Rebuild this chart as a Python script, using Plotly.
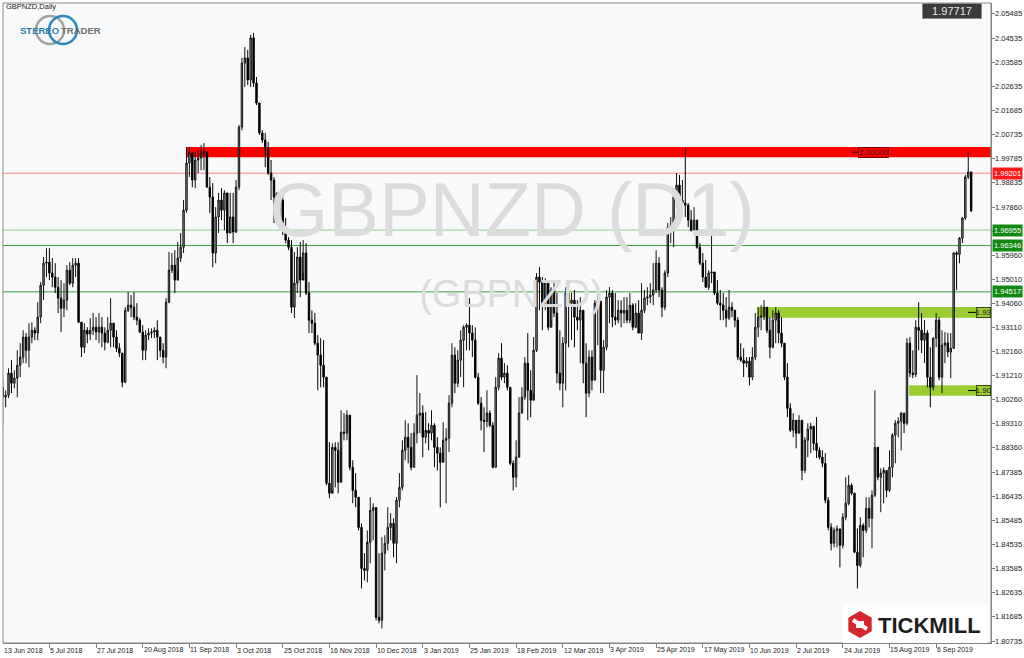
import math
import plotly.graph_objects as go

# ---------------- data ----------------
first_open = 1.9075

closes = [
1.9036,1.9044,1.9131,1.9091,1.9111,1.9162,1.9194,1.9273,1.9221,1.9273,
1.9300,1.9289,1.9352,1.9478,1.9565,1.9569,1.9526,1.9510,1.9470,1.9427,
1.9387,1.9419,1.9537,1.9486,1.9557,1.9565,1.9332,1.9233,1.9300,1.9285,
1.9300,1.9312,1.9293,1.9312,1.9289,1.9253,1.9300,1.9328,1.9273,1.9229,
1.9210,1.9095,1.9379,1.9399,1.9391,1.9352,1.9340,1.9293,1.9221,1.9281,
1.9289,1.9293,1.9300,1.9273,1.9221,1.9194,1.9411,1.9537,1.9557,1.9498,
1.9585,1.9628,1.9774,1.9960,2.0000,1.9893,1.9972,1.9980,2.0000,2.0005,
1.9865,1.9826,1.9605,1.9747,1.9814,1.9774,1.9842,1.9684,1.9747,1.9688,
1.9865,2.0102,2.0355,2.0375,2.0288,2.0454,2.0276,2.0197,2.0079,2.0051,
2.0019,1.9921,1.9893,1.9826,1.9840,1.9814,1.9695,1.9656,1.9628,1.9391,
1.9486,1.9589,1.9498,1.9605,1.9447,1.9340,1.9328,1.9249,1.9202,1.9162,
1.9115,1.8696,1.8657,1.8838,1.8826,1.8700,1.8898,1.8894,1.8965,1.8759,
1.8668,1.8641,1.8522,1.8360,1.8352,1.8463,1.8589,1.8600,1.8167,1.8155,
1.8420,1.8459,1.8522,1.8538,1.8459,1.8629,1.8680,1.8826,1.8878,1.8838,
1.8759,1.8894,1.8965,1.8973,1.8878,1.8905,1.8894,1.8925,1.8838,1.8815,
1.8779,1.8866,1.8874,1.9012,1.9202,1.9091,1.9182,1.9261,1.9312,1.9320,
1.9289,1.9261,1.9115,1.9012,1.8945,1.8940,1.8973,1.8925,1.8759,1.9075,
1.9190,1.9115,1.9131,1.9075,1.8775,1.8720,1.8799,1.8973,1.9036,1.9170,
1.9063,1.9024,1.9221,1.9510,1.9490,1.9407,1.9486,1.9312,1.9459,1.9368,
1.9131,1.9091,1.9249,1.9447,1.9407,1.9419,1.9352,1.9340,1.9379,1.9170,
1.9052,1.9194,1.9103,1.9407,1.9415,1.9142,1.9233,1.9431,1.9447,1.9352,
1.9340,1.9379,1.9368,1.9379,1.9340,1.9399,1.9312,1.9368,1.9289,1.9379,
1.9427,1.9431,1.9439,1.9459,1.9565,1.9459,1.9391,1.9526,1.9707,1.9712,
1.9826,1.9873,1.9814,1.9802,1.9794,1.9735,1.9695,1.9735,1.9628,1.9565,
1.9510,1.9470,1.9526,1.9530,1.9447,1.9407,1.9400,1.9379,1.9348,1.9391,
1.9379,1.9340,1.9194,1.9182,1.9170,1.9178,1.9115,1.9194,1.9312,1.9352,
1.9356,1.9391,1.9300,1.9233,1.9340,1.9368,1.9289,1.9249,1.9115,1.8992,
1.8905,1.8945,1.8894,1.8945,1.8747,1.8866,1.8910,1.8921,1.8854,1.8826,
1.8799,1.8775,1.8629,1.8522,1.8459,1.8510,1.8516,1.8451,1.8562,1.8617,
1.8688,1.8657,1.8424,1.8372,1.8530,1.8510,1.8597,1.8558,1.8649,1.8838,
1.8720,1.8736,1.8747,1.8668,1.8759,1.8886,1.8933,1.8941,1.8973,1.8933,
1.9249,1.9131,1.9125,1.9312,1.9300,1.9261,1.9289,1.9115,1.9075,1.9269,
1.9340,1.9115,1.9241,1.9250,1.9214,1.9229,1.9605,1.9600,1.9664,1.9743,
1.9905,1.9925,1.97717]

opens = [first_open,
1.9036,1.9044,1.9131,1.9091,1.9111,1.9162,1.9194,1.9273,1.9221,1.9273,
1.9300,1.9289,1.9352,1.9478,1.9565,1.9569,1.9526,1.9510,1.9470,1.9427,
1.9387,1.9419,1.9537,1.9486,1.9557,1.9565,1.9332,1.9233,1.9300,1.9285,
1.9300,1.9312,1.9293,1.9312,1.9289,1.9253,1.9300,1.9328,1.9273,1.9229,
1.9210,1.9095,1.9379,1.9399,1.9391,1.9352,1.9340,1.9293,1.9221,1.9281,
1.9289,1.9293,1.9300,1.9273,1.9221,1.9194,1.9411,1.9537,1.9557,1.9498,
1.9585,1.9628,1.9774,1.9960,2.0000,1.9893,1.9972,1.9980,2.0000,2.0005,
1.9865,1.9826,1.9605,1.9747,1.9814,1.9774,1.9842,1.9684,1.9747,1.9688,
1.9865,2.0102,2.0355,2.0375,2.0288,2.0454,2.0276,2.0197,2.0079,2.0051,
2.0019,1.9921,1.9893,1.9826,1.9840,1.9814,1.9695,1.9656,1.9628,1.9391,
1.9486,1.9589,1.9498,1.9605,1.9447,1.9340,1.9328,1.9249,1.9202,1.9162,
1.9115,1.8696,1.8657,1.8838,1.8826,1.8700,1.8898,1.8894,1.8965,1.8759,
1.8668,1.8641,1.8522,1.8360,1.8352,1.8463,1.8589,1.8600,1.8167,1.8155,
1.8420,1.8459,1.8522,1.8538,1.8459,1.8629,1.8680,1.8826,1.8878,1.8838,
1.8759,1.8894,1.8965,1.8973,1.8878,1.8905,1.8894,1.8925,1.8838,1.8815,
1.8779,1.8866,1.8874,1.9012,1.9202,1.9091,1.9182,1.9261,1.9312,1.9320,
1.9289,1.9261,1.9115,1.9012,1.8945,1.8940,1.8973,1.8925,1.8759,1.9075,
1.9190,1.9115,1.9131,1.9075,1.8775,1.8720,1.8799,1.8973,1.9036,1.9170,
1.9063,1.9024,1.9221,1.9510,1.9490,1.9407,1.9486,1.9312,1.9459,1.9368,
1.9131,1.9091,1.9249,1.9447,1.9407,1.9419,1.9352,1.9340,1.9379,1.9170,
1.9052,1.9194,1.9103,1.9407,1.9415,1.9142,1.9233,1.9431,1.9447,1.9352,
1.9340,1.9379,1.9368,1.9379,1.9340,1.9399,1.9312,1.9368,1.9289,1.9379,
1.9427,1.9431,1.9439,1.9459,1.9565,1.9459,1.9391,1.9526,1.9707,1.9712,
1.9826,1.9873,1.9814,1.9802,1.9794,1.9735,1.9695,1.9735,1.9628,1.9565,
1.9510,1.9470,1.9526,1.9530,1.9447,1.9407,1.9400,1.9379,1.9348,1.9391,
1.9379,1.9340,1.9194,1.9182,1.9170,1.9178,1.9115,1.9194,1.9312,1.9352,
1.9356,1.9391,1.9300,1.9233,1.9340,1.9368,1.9289,1.9249,1.9115,1.8992,
1.8905,1.8945,1.8894,1.8945,1.8747,1.8866,1.8910,1.8921,1.8854,1.8826,
1.8799,1.8775,1.8629,1.8522,1.8459,1.8510,1.8516,1.8451,1.8562,1.8617,
1.8688,1.8657,1.8424,1.8372,1.8530,1.8510,1.8597,1.8558,1.8649,1.8838,
1.8720,1.8736,1.8747,1.8668,1.8759,1.8886,1.8933,1.8941,1.8973,1.8933,
1.9249,1.9131,1.9125,1.9312,1.9300,1.9261,1.9289,1.9115,1.9075,1.9269,
1.9340,1.9115,1.9241,1.9250,1.9214,1.9229,1.9605,1.9600,1.9664,1.9743,
1.9905,1.9925]

highs = [
1.9111,1.9063,1.9150,1.9182,1.9142,1.9221,1.9249,1.9300,1.9289,1.9328,
1.9332,1.9312,1.9411,1.9490,1.9589,1.9624,1.9624,1.9585,1.9565,1.9510,
1.9498,1.9486,1.9557,1.9569,1.9585,1.9585,1.9585,1.9332,1.9328,1.9312,
1.9348,1.9368,1.9352,1.9368,1.9352,1.9312,1.9352,1.9427,1.9320,1.9300,
1.9249,1.9170,1.9391,1.9451,1.9439,1.9451,1.9407,1.9348,1.9320,1.9300,
1.9308,1.9308,1.9312,1.9340,1.9261,1.9249,1.9427,1.9609,1.9605,1.9616,
1.9648,1.9684,1.9814,2.0023,2.0023,2.0004,2.0004,2.0011,2.0031,2.0039,
2.0004,1.9905,1.9881,1.9786,1.9842,1.9861,1.9853,1.9802,1.9842,1.9842,
1.9893,2.0110,2.0375,2.0418,2.0407,2.0466,2.0474,2.0300,2.0181,2.0090,
2.0079,2.0043,1.9972,1.9905,1.9845,1.9826,1.9842,1.9743,1.9668,1.9656,
1.9609,1.9628,1.9648,1.9656,1.9644,1.9490,1.9379,1.9368,1.9281,1.9269,
1.9261,1.9095,1.8858,1.8854,1.8858,1.8858,1.8984,1.8973,1.8984,1.8957,
1.8787,1.8736,1.8641,1.8538,1.8420,1.8510,1.8641,1.8617,1.8499,1.8420,
1.8483,1.8491,1.8601,1.8578,1.8558,1.8641,1.8736,1.8866,1.8945,1.8933,
1.8894,1.8933,1.9123,1.9052,1.9004,1.8977,1.8933,1.8984,1.8933,1.8878,
1.8838,1.8937,1.8913,1.9044,1.9249,1.9233,1.9221,1.9300,1.9320,1.9328,
1.9427,1.9320,1.9312,1.9131,1.9036,1.8996,1.9063,1.8984,1.8937,1.9115,
1.9210,1.9249,1.9170,1.9162,1.8945,1.8787,1.8866,1.9036,1.9075,1.9194,
1.9289,1.9142,1.9273,1.9526,1.9549,1.9510,1.9506,1.9498,1.9470,1.9486,
1.9447,1.9300,1.9273,1.9470,1.9486,1.9447,1.9459,1.9419,1.9431,1.9328,
1.9249,1.9221,1.9221,1.9419,1.9447,1.9352,1.9261,1.9459,1.9470,1.9459,
1.9447,1.9419,1.9419,1.9431,1.9431,1.9447,1.9407,1.9407,1.9419,1.9486,
1.9459,1.9470,1.9486,1.9565,1.9616,1.9589,1.9470,1.9537,1.9723,1.9747,
1.9853,1.9921,1.9913,1.9893,2.0019,1.9802,1.9774,1.9786,1.9735,1.9644,
1.9605,1.9577,1.9537,1.9684,1.9530,1.9498,1.9459,1.9447,1.9431,1.9459,
1.9411,1.9368,1.9352,1.9249,1.9229,1.9194,1.9194,1.9233,1.9368,1.9391,
1.9399,1.9419,1.9391,1.9352,1.9379,1.9391,1.9379,1.9352,1.9249,1.9170,
1.9012,1.8973,1.8945,1.8965,1.8894,1.8878,1.8933,1.8935,1.8917,1.8957,
1.8838,1.8826,1.8815,1.8641,1.8538,1.8522,1.8530,1.8499,1.8578,1.8720,
1.8728,1.8696,1.8657,1.8518,1.8562,1.8538,1.8641,1.8641,1.8668,1.9063,
1.8838,1.8755,1.8759,1.8736,1.8826,1.8894,1.8945,1.8957,1.8977,1.8973,
1.9269,1.9273,1.9221,1.9340,1.9411,1.9368,1.9340,1.9300,1.9233,1.9273,
1.9368,1.9352,1.9300,1.9293,1.9289,1.9289,1.9609,1.9612,1.9668,1.9747,
1.9913,2.0004,1.9925]

lows = [
1.8925,1.8996,1.9032,1.9052,1.9071,1.9036,1.9115,1.9170,1.9170,1.9154,
1.9249,1.9261,1.9261,1.9328,1.9419,1.9510,1.9498,1.9470,1.9447,1.9368,
1.9293,1.9352,1.9379,1.9478,1.9470,1.9510,1.9328,1.9194,1.9210,1.9249,
1.9261,1.9281,1.9261,1.9249,1.9233,1.9221,1.9249,1.9233,1.9233,1.9214,
1.9194,1.9075,1.9091,1.9372,1.9352,1.9340,1.9320,1.9289,1.9182,1.9182,
1.9261,1.9269,1.9269,1.9182,1.9194,1.9170,1.9150,1.9407,1.9526,1.9447,
1.9537,1.9569,1.9605,1.9763,1.9905,1.9865,1.9861,1.9921,1.9932,1.9932,
1.9865,1.9763,1.9549,1.9565,1.9684,1.9735,1.9695,1.9644,1.9684,1.9644,
1.9684,1.9853,2.0090,2.0260,2.0268,2.0260,2.0260,2.0189,2.0071,2.0039,
1.9944,1.9913,1.9814,1.9723,1.9735,1.9723,1.9676,1.9644,1.9616,1.9368,
1.9348,1.9447,1.9431,1.9526,1.9439,1.9289,1.9289,1.9241,1.9063,1.9075,
1.9075,1.8688,1.8637,1.8668,1.8680,1.8657,1.8838,1.8866,1.8866,1.8747,
1.8617,1.8601,1.8510,1.8281,1.8313,1.8305,1.8380,1.8471,1.8155,1.8143,
1.8123,1.8352,1.8431,1.8471,1.8404,1.8380,1.8601,1.8668,1.8787,1.8775,
1.8747,1.8759,1.8854,1.8894,1.8799,1.8854,1.8826,1.8866,1.8759,1.8747,
1.8601,1.8815,1.8617,1.8819,1.8996,1.9052,1.9075,1.9115,1.9075,1.9221,
1.9221,1.9194,1.9110,1.9005,1.8905,1.8819,1.8917,1.8917,1.8755,1.8759,
1.9063,1.9103,1.9091,1.9063,1.8767,1.8668,1.8680,1.8866,1.8973,1.9024,
1.8945,1.8957,1.9052,1.9214,1.9379,1.9300,1.9379,1.9300,1.9340,1.9352,
1.9091,1.9063,1.8996,1.9063,1.9233,1.9261,1.9233,1.9300,1.9170,1.9091,
1.8957,1.9036,1.9063,1.9103,1.9241,1.9052,1.9052,1.9221,1.9328,1.9312,
1.9320,1.9328,1.9312,1.9328,1.9328,1.9328,1.9300,1.9308,1.9289,1.9261,
1.9368,1.9399,1.9407,1.9399,1.9447,1.9431,1.9352,1.9379,1.9510,1.9644,
1.9628,1.9786,1.9806,1.9774,1.9747,1.9707,1.9690,1.9684,1.9622,1.9557,
1.9490,1.9466,1.9459,1.9486,1.9439,1.9400,1.9340,1.9340,1.9312,1.9340,
1.9352,1.9312,1.9182,1.9175,1.9115,1.9154,1.9083,1.9103,1.9182,1.9273,
1.9300,1.9340,1.9289,1.9190,1.9229,1.9249,1.9249,1.9233,1.9103,1.8957,
1.8898,1.8878,1.8834,1.8905,1.8708,1.8736,1.8799,1.8815,1.8826,1.8795,
1.8790,1.8759,1.8617,1.8510,1.8431,1.8443,1.8443,1.8364,1.8439,1.8550,
1.8609,1.8649,1.8420,1.8281,1.8364,1.8404,1.8499,1.8522,1.8439,1.8641,
1.8708,1.8582,1.8617,1.8641,1.8661,1.8720,1.8775,1.8878,1.8826,1.8894,
1.8925,1.9115,1.9111,1.9115,1.9221,1.9210,1.9170,1.9075,1.8996,1.9063,
1.9233,1.9103,1.9052,1.9170,1.9194,1.9111,1.9233,1.9459,1.9565,1.9644,
1.9735,1.9897,1.9767]

tick_bars = [0, 16, 32, 48, 64, 80, 96, 112, 128, 144, 160, 176, 192, 208, 224,
             240, 256, 272, 288, 304, 320]
tick_labels = ["13 Jun 2018", "5 Jul 2018", "27 Jul 2018", "20 Aug 2018", "11 Sep 2018",
               "3 Oct 2018", "25 Oct 2018", "16 Nov 2018", "10 Dec 2018", "3 Jan 2019",
               "25 Jan 2019", "18 Feb 2019", "12 Mar 2019", "3 Apr 2019", "25 Apr 2019",
               "17 May 2019", "10 Jun 2019", "2 Jul 2019", "24 Jul 2019", "15 Aug 2019",
               "6 Sep 2019"]

price_ticks = [2.05485, 2.04535, 2.03585, 2.02635, 2.01685, 2.00735, 1.99785, 1.98835,
               1.97860, 1.96910, 1.95960, 1.95010, 1.94060, 1.93110, 1.92160, 1.91210,
               1.90260, 1.89310, 1.88360, 1.87385, 1.86435, 1.85485, 1.84535, 1.83585,
               1.82635, 1.81685, 1.80735]

red_zone = [1.99828, 2.00234]
red_level = 1.99201
green_levels = [1.96955, 1.96346, 1.94517]
lime_zone_upper = [1.93496, 1.93918]
lime_zone_lower = [1.90416, 1.90827]
last_price = 1.97717

# ---------------- layout geometry ----------------
W, H = 1024, 658
ML, MR, MT, MB = 3, 33, 3, 15
PW, PH = W - ML - MR, H - MT - MB
Y_MIN, Y_MAX = 1.80656, 2.05919
X_MIN, X_MAX = 0.1, 338.8


def dx(px):
    return X_MIN + (px - ML) / PW * (X_MAX - X_MIN)


def dy(py):
    return Y_MAX - (py - MT) / PH * (Y_MAX - Y_MIN)


def px_(px):
    return (px - ML) / PW


def py_(py):
    return 1 - (py - MT) / PH


SMALL = "Liberation Sans, Arial, sans-serif"
bars = list(range(len(closes)))

fig = go.Figure()

# watermark (drawn behind candles)
fig.add_trace(go.Scatter(
    x=[dx(512), dx(511)], y=[dy(217), dy(297)], mode="text",
    text=["GBPNZD (D1)", "(GBPNZD)"],
    textfont=dict(family="Liberation Sans, Arial, sans-serif", size=[76, 38],
                  color="#dcdcdc"),
    hoverinfo="skip", showlegend=False))

fig.add_trace(go.Candlestick(
    x=bars, open=opens, high=highs, low=lows, close=closes,
    increasing=dict(fillcolor="#9c9c9c", line=dict(color="#111111", width=1)),
    decreasing=dict(fillcolor="#000000", line=dict(color="#000000", width=1)),
    whiskerwidth=0, hoverinfo="skip", showlegend=False))

shapes = []
shapes.append(dict(type="rect", xref="x", yref="y", x0=dx(186), x1=X_MAX,
                   y0=red_zone[0], y1=red_zone[1], fillcolor="#ff0000",
                   line=dict(width=0), layer="below"))
shapes.append(dict(type="line", xref="paper", yref="y", x0=0, x1=1,
                   y0=red_level, y1=red_level, line=dict(color="#ff8080", width=1),
                   layer="below"))
for lv, col in zip(green_levels, ["#8fcc8f", "#3aa03a", "#3aa03a"]):
    shapes.append(dict(type="line", xref="paper", yref="y", x0=0, x1=1,
                       y0=lv, y1=lv, line=dict(color=col, width=1), layer="below"))
shapes.append(dict(type="rect", xref="x", yref="y", x0=dx(757), x1=X_MAX,
                   y0=lime_zone_upper[0], y1=lime_zone_upper[1], fillcolor="#9acd32",
                   line=dict(width=0), layer="below"))
shapes.append(dict(type="rect", xref="x", yref="y", x0=dx(909), x1=X_MAX,
                   y0=lime_zone_lower[0], y1=lime_zone_lower[1], fillcolor="#9acd32",
                   line=dict(width=0), layer="below"))
for (x0, x1, yy) in [(852, 858, sum(red_zone) / 2),
                     (968, 976, sum(lime_zone_upper) / 2),
                     (968, 976, sum(lime_zone_lower) / 2)]:
    shapes.append(dict(type="line", xref="x", yref="y", x0=dx(x0), x1=dx(x1),
                       y0=yy, y1=yy, line=dict(color="#000000", width=1)))
shapes.append(dict(type="rect", xref="paper", yref="paper", x0=0, x1=1, y0=0, y1=1,
                   line=dict(color="#8a8a8a", width=1), fillcolor="rgba(0,0,0,0)"))

# StereoTrader logo rings
for cx, col in [(50, "#a3a3a3"), (63, "#2a8ab8")]:
    r = 14
    shapes.append(dict(type="circle", xref="paper", yref="paper",
                       x0=px_(cx - r), x1=px_(cx + r), y0=py_(30 + r), y1=py_(30 - r),
                       line=dict(color=col, width=2.5)))

# Tickmill box and icon
shapes.append(dict(type="rect", xref="paper", yref="paper",
                   x0=px_(843), x1=px_(988), y0=py_(643), y1=py_(605),
                   fillcolor="#ffffff", line=dict(width=0)))
hcx, hcy, hr = 860, 624.5, 13.5
pts = []
for k in range(6):
    a = math.radians(90 + 60 * k)
    pts.append((px_(hcx + hr * math.cos(a)), py_(hcy - hr * math.sin(a))))
path = "M " + " L ".join(f"{x:.5f},{y:.5f}" for x, y in pts) + " Z"
shapes.append(dict(type="path", xref="paper", yref="paper", path=path,
                   fillcolor="#d6262b", line=dict(width=0)))
shapes.append(dict(type="line", xref="paper", yref="paper",
                   x0=px_(853), y0=py_(620), x1=px_(867), y1=py_(629),
                   line=dict(color="#ffffff", width=4)))
shapes.append(dict(type="rect", xref="paper", yref="paper",
                   x0=px_(856), x1=px_(864), y0=py_(628), y1=py_(621),
                   fillcolor="#ffffff", line=dict(width=0)))

annotations = []
# x tick labels (left-aligned at tick, MT4 style)
for b, lab in zip(tick_bars, tick_labels):
    annotations.append(dict(x=px_(ML + (b - X_MIN) / (X_MAX - X_MIN) * PW), xref="paper",
                            y=py_(650), yref="paper", text=lab,
                            showarrow=False, xanchor="left", yanchor="middle",
                            borderpad=0, font=dict(family=SMALL, size=7, color="#222222")))
# y tick labels
for v in price_ticks:
    annotations.append(dict(x=px_(994), xref="paper", y=v, yref="y", text=f"{v:.5f}",
                            showarrow=False, xanchor="left", yanchor="middle",
                            borderpad=0, font=dict(family=SMALL, size=7.5, color="#222222")))
# right axis level labels
for lv, txt, bg in [(red_level, "1.99201", "#ff1a1a"),
                    (green_levels[0], "1.96955", "#118a11"),
                    (green_levels[1], "1.96346", "#118a11"),
                    (green_levels[2], "1.94517", "#118a11")]:
    annotations.append(dict(x=px_(992), xref="paper", y=lv, yref="y", text=txt,
                            showarrow=False, xanchor="left", yanchor="middle",
                            bgcolor=bg, borderpad=1,
                            font=dict(family=SMALL, size=7.5, color="#ffffff")))
# zone labels
annotations.append(dict(x=dx(858), xref="x", y=sum(red_zone) / 2, yref="y",
                        text="2.00000", showarrow=False, xanchor="left", yanchor="middle",
                        bgcolor="#ff0000", bordercolor="#7a0000", borderwidth=1, borderpad=0,
                        font=dict(family=SMALL, size=8, color="#3a0000")))
for zone, ztxt in ((lime_zone_upper, "1.93"), (lime_zone_lower, "1.90")):
    annotations.append(dict(x=dx(976), xref="x", y=sum(zone) / 2, yref="y",
                            text=ztxt, showarrow=False, xanchor="left", yanchor="middle",
                            bgcolor="#9acd32", bordercolor="#3a4a10", borderwidth=1,
                            borderpad=0, width=13,
                            font=dict(family=SMALL, size=8, color="#1a1a1a")))
# last price box
annotations.append(dict(x=px_(952), xref="paper", y=py_(10.5), yref="paper",
                        text=f"{last_price:.5f}", showarrow=False, xanchor="center",
                        yanchor="middle", bgcolor="#3b3b3b", bordercolor="#8a8a8a",
                        borderwidth=1, width=58, height=14, borderpad=0,
                        font=dict(family="Liberation Sans, Arial, sans-serif", size=11,
                                  color="#e6e6e6")))
# title
annotations.append(dict(x=px_(5), xref="paper", y=py_(7), yref="paper",
                        text="GBPNZD,Daily", showarrow=False, xanchor="left",
                        yanchor="middle", borderpad=0,
                        font=dict(family=SMALL, size=7.5, color="#222222")))
# StereoTrader wordmark
annotations.append(dict(x=px_(19), xref="paper", y=py_(30), yref="paper",
                        text="<b>STEREO</b>", showarrow=False, xanchor="left",
                        yanchor="middle", borderpad=0,
                        font=dict(family=SMALL, size=9.5, color="#2a7ca8")))
annotations.append(dict(x=px_(60), xref="paper", y=py_(30), yref="paper",
                        text="<b>TRADER</b>", showarrow=False, xanchor="left",
                        yanchor="middle", borderpad=0,
                        font=dict(family=SMALL, size=9.5, color="#6e6e6e")))
# Tickmill wordmark
annotations.append(dict(x=px_(877), xref="paper", y=py_(625), yref="paper",
                        text="<b>TICKMILL</b>", showarrow=False, xanchor="left",
                        yanchor="middle", borderpad=0,
                        font=dict(family="Liberation Sans, Arial, sans-serif", size=22,
                                  color="#1e1e1e")))

fig.update_layout(
    width=W, height=H,
    margin=dict(l=ML, r=MR, t=MT, b=MB, autoexpand=False),
    paper_bgcolor="#ffffff", plot_bgcolor="#f8f9fb",
    showlegend=False, shapes=shapes, annotations=annotations,
    xaxis=dict(range=[X_MIN, X_MAX], rangeslider=dict(visible=False),
               showgrid=False, zeroline=False, showline=True, linecolor="#7a7a7a",
               linewidth=1, ticks="outside", ticklen=4, tickcolor="#7a7a7a",
               tickvals=tick_bars, showticklabels=False, fixedrange=True),
    yaxis=dict(range=[Y_MIN, Y_MAX], side="right", showgrid=False, zeroline=False,
               showline=True, linecolor="#7a7a7a", linewidth=1, ticks="outside",
               ticklen=3, tickcolor="#7a7a7a", tickvals=price_ticks,
               showticklabels=False, fixedrange=True),
)

fig.write_html("out.html", config={"displayModeBar": False},
               post_script="document.body.style.margin='0';"
                           "document.body.style.overflow='hidden';")
